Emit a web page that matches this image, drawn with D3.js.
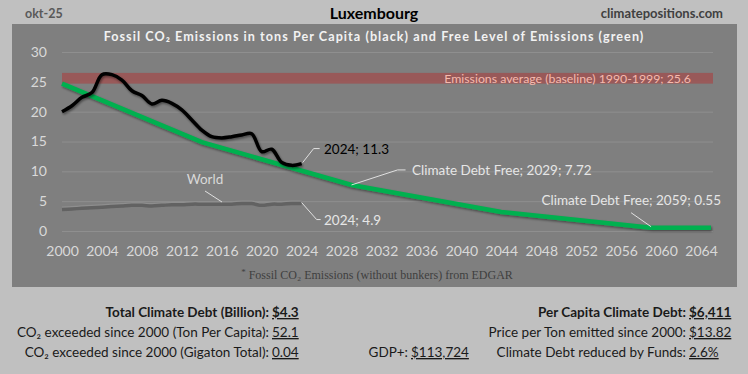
<!DOCTYPE html>
<html>
<head>
<meta charset="utf-8">
<script src="https://cdn.jsdelivr.net/npm/d3@7"></script>
<style>
  html, body { margin: 0; padding: 0; background: #c0c0c0; }
  svg { display: block; }
  text { font-family: Lato, "Open Sans", sans-serif; }
  text.serif, text.serif tspan { font-family: "Liberation Serif", "DejaVu Serif", serif; }
</style>
</head>
<body>
<svg id="chart" width="748" height="374"></svg>
<script>
// ---- data ----
const emissionYears = d3.range(2000, 2025);
const emissionValues = [20.0, 21.0, 22.4, 23.2, 26.2, 26.2, 25.3, 23.5, 22.7, 21.3,
                        21.9, 21.4, 20.3, 18.6, 16.9, 15.8, 15.6, 15.8, 16.1, 16.3,
                        13.3, 13.7, 11.5, 11.0, 11.3];
const worldValues = [3.6, 3.7, 3.8, 3.9, 4.0, 4.1, 4.2, 4.3, 4.3, 4.2,
                     4.3, 4.4, 4.4, 4.5, 4.5, 4.5, 4.5, 4.5, 4.6, 4.6,
                     4.3, 4.5, 4.5, 4.6, 4.6];
const freeYears = [2000, 2014, 2029, 2044, 2059, 2065];
const freeValues = [24.7, 14.9, 7.72, 3.2, 0.55, 0.55];
const baselineValue = 25.6;
const baselineHalfWidth = 0.9;
const yTicks = [0, 5, 10, 15, 20, 25, 30];
const xTicks = d3.range(2000, 2065, 4);

const statsLeft = [
  {label: "Total Climate Debt (Billion):", value: "$4.3", bold: true},
  {label: "CO\u2082 exceeded since 2000 (Ton Per Capita):", value: "52.1", bold: false},
  {label: "CO\u2082 exceeded since 2000 (Gigaton Total):", value: "0.04", bold: false}
];
const statsRight = [
  {label: "Per Capita Climate Debt:", value: "$6,411", bold: true},
  {label: "Price per Ton emitted since 2000:", value: "$13.82", bold: false},
  {label: "Climate Debt reduced by Funds:", value: "2.6%", bold: false}
];
const gdpLabel = "GDP+:";
const gdpValue = "$113,724";

// ---- drawing ----
const svg = d3.select("#chart");
const W = 748, H = 374;

svg.append("rect").attr("width", W).attr("height", H).attr("fill", "#c0c0c0");

const defs = svg.append("defs");
const sh = defs.append("filter").attr("id", "shadow").attr("x", "-5%").attr("y", "-20%").attr("width", "110%").attr("height", "140%");
sh.append("feDropShadow").attr("dx", 1).attr("dy", 1.5).attr("stdDeviation", 1.2)
  .attr("flood-color", "#000").attr("flood-opacity", 0.45);

// panel
svg.append("rect").attr("x", 12).attr("y", 24).attr("width", 725).attr("height", 263).attr("fill", "#7f7f7f");

const x = d3.scaleLinear().domain([2000, 2065]).range([62, 711]);
const y = d3.scaleLinear().domain([0, 30]).range([231, 52]);

// header texts
svg.append("text").attr("x", 25).attr("y", 18).attr("font-size", 12.5).attr("font-weight", 700)
  .attr("fill", "#595959").text("okt-25");
svg.append("text").attr("x", 374).attr("y", 19).attr("text-anchor", "middle").attr("font-size", 16)
  .attr("font-weight", 700).attr("fill", "#000").text("Luxembourg");
svg.append("text").attr("x", 723).attr("y", 18).attr("text-anchor", "end").attr("font-size", 13)
  .attr("font-weight", 700).attr("fill", "#404040").text("climatepositions.com");
svg.append("text").attr("x", 374).attr("y", 41).attr("text-anchor", "middle").attr("font-size", 12.6)
  .attr("font-weight", 700).attr("letter-spacing", 1.05).attr("fill", "#f2f2f2")
  .text("Fossil CO\u2082 Emissions in tons Per Capita (black) and Free Level of Emissions (green)");

// gridlines
const grid = svg.append("g").attr("transform", "translate(62,0)")
  .call(d3.axisLeft(y).tickValues(yTicks).tickSize(-651).tickFormat(""));
grid.select(".domain").remove();
grid.selectAll("line").attr("stroke", "#8f8f8f").attr("stroke-width", 1);

// y axis labels
const ya = svg.append("g").attr("transform", "translate(47,0)")
  .call(d3.axisLeft(y).tickValues(yTicks).tickSize(0).tickPadding(0));
ya.select(".domain").remove();
ya.selectAll("text").attr("font-size", 14).attr("fill", "#d9d9d9");

// x axis labels
const xa = svg.append("g").attr("transform", "translate(0,246)")
  .call(d3.axisBottom(x).tickValues(xTicks).tickSize(0).tickPadding(0).tickFormat(d3.format("d")));
xa.select(".domain").remove();
xa.selectAll("text").attr("font-size", 14).attr("fill", "#d9d9d9");

// baseline band
svg.append("rect").attr("x", x(2000)).attr("width", x(2065) - x(2000) + 2)
  .attr("y", y(baselineValue + baselineHalfWidth))
  .attr("height", y(baselineValue - baselineHalfWidth) - y(baselineValue + baselineHalfWidth))
  .attr("fill", "#9a5757").attr("opacity", 0.95);
svg.append("text").attr("x", 691).attr("y", y(baselineValue) + 5).attr("text-anchor", "end")
  .attr("font-size", 12.3).attr("fill", "#f6b9ae")
  .text("Emissions average (baseline) 1990-1999; " + baselineValue);

// world line
const worldLine = d3.line().x((d, i) => x(emissionYears[i])).y(d => y(d)).curve(d3.curveCatmullRom.alpha(0.5));
svg.append("path").datum(worldValues).attr("d", worldLine).attr("fill", "none")
  .attr("stroke", "#8e8e8e").attr("stroke-width", 2).attr("transform", "translate(0,-2)");
svg.append("path").datum(worldValues).attr("d", worldLine).attr("fill", "none")
  .attr("stroke", "#626262").attr("stroke-width", 3.5);

// free level (green)
const freeLine = d3.line().x((d, i) => x(freeYears[i])).y(d => y(d));
svg.append("path").datum(freeValues).attr("d", freeLine).attr("fill", "none")
  .attr("stroke", "#00b050").attr("stroke-width", 4.5).attr("filter", "url(#shadow)");

// emissions (black)
const emLine = d3.line().x((d, i) => x(emissionYears[i])).y(d => y(d)).curve(d3.curveCatmullRom.alpha(0.5));
svg.append("path").datum(emissionValues).attr("d", emLine).attr("fill", "none")
  .attr("stroke", "#000").attr("stroke-width", 3.5).attr("stroke-linejoin", "round")
  .attr("filter", "url(#shadow)");

// annotations
const leader = (pts) => svg.append("path").attr("d", d3.line()(pts)).attr("fill", "none")
  .attr("stroke", "#e0e0e0").attr("stroke-width", 1);

const lastEm = emissionValues[emissionValues.length - 1];
leader([[x(2024) + 1, y(lastEm) - 1], [x(2024) + 12, y(lastEm) - 15], [x(2024) + 18, y(lastEm) - 15]]);
svg.append("text").attr("x", 324).attr("y", y(lastEm) - 10).attr("font-size", 13.5).attr("fill", "#000")
  .text("2024; " + lastEm);

leader([[x(2024), y(4.6) - 1], [x(2024) + 15, y(4.6) + 16], [x(2024) + 19, y(4.6) + 16]]);
svg.append("text").attr("x", 324).attr("y", y(4.6) + 21).attr("font-size", 13.5).attr("fill", "#e6e6e6")
  .text("2024; 4.9");

leader([[205, 191], [222, 202]]);
svg.append("text").attr("x", 205).attr("y", 184).attr("text-anchor", "middle").attr("font-size", 13.5)
  .attr("fill", "#d9d9d9").text("World");

leader([[x(2029), y(7.72)], [x(2029) + 46, y(7.72) - 15], [x(2029) + 54, y(7.72) - 15]]);
svg.append("text").attr("x", 412).attr("y", y(7.72) - 10).attr("font-size", 13.5).attr("fill", "#e6e6e6")
  .text("Climate Debt Free; 2029; 7.72");

leader([[x(2059), y(0.55) - 1], [x(2059) - 20, y(0.55) - 15]]);
svg.append("text").attr("x", 721).attr("y", 205).attr("text-anchor", "end").attr("font-size", 13.5)
  .attr("fill", "#e6e6e6").text("Climate Debt Free; 2059; 0.55");

// footnote
const fn = svg.append("text").attr("class", "serif").attr("x", 377).attr("y", 279).attr("text-anchor", "middle")
  .attr("font-size", 12).attr("fill", "#404040");
fn.append("tspan").attr("font-size", 9).attr("dy", -4).text("*");
fn.append("tspan").attr("dy", 4).text(" Fossil CO\u2082 Emissions (without bunkers) from EDGAR");

// stats
function stats(rows, labelX, valueX) {
  rows.forEach((r, i) => {
    const yy = 317 + i * 20;
    svg.append("text").attr("x", labelX).attr("y", yy).attr("text-anchor", "end").attr("font-size", 13.5)
      .attr("font-weight", r.bold ? 700 : 400).attr("fill", "#1a1a1a").text(r.label);
    svg.append("text").attr("x", valueX).attr("y", yy).attr("font-size", 13.5)
      .attr("font-weight", r.bold ? 700 : 400).attr("fill", "#1a1a1a")
      .attr("text-decoration", "underline").text(r.value);
  });
}
stats(statsLeft, 269, 272);
stats(statsRight, 686, 689);
svg.append("text").attr("x", 408).attr("y", 357).attr("text-anchor", "end").attr("font-size", 13.5)
  .attr("fill", "#1a1a1a").text(gdpLabel);
svg.append("text").attr("x", 411).attr("y", 357).attr("font-size", 13.5)
  .attr("fill", "#1a1a1a").attr("text-decoration", "underline").text(gdpValue);
</script>
</body>
</html>
